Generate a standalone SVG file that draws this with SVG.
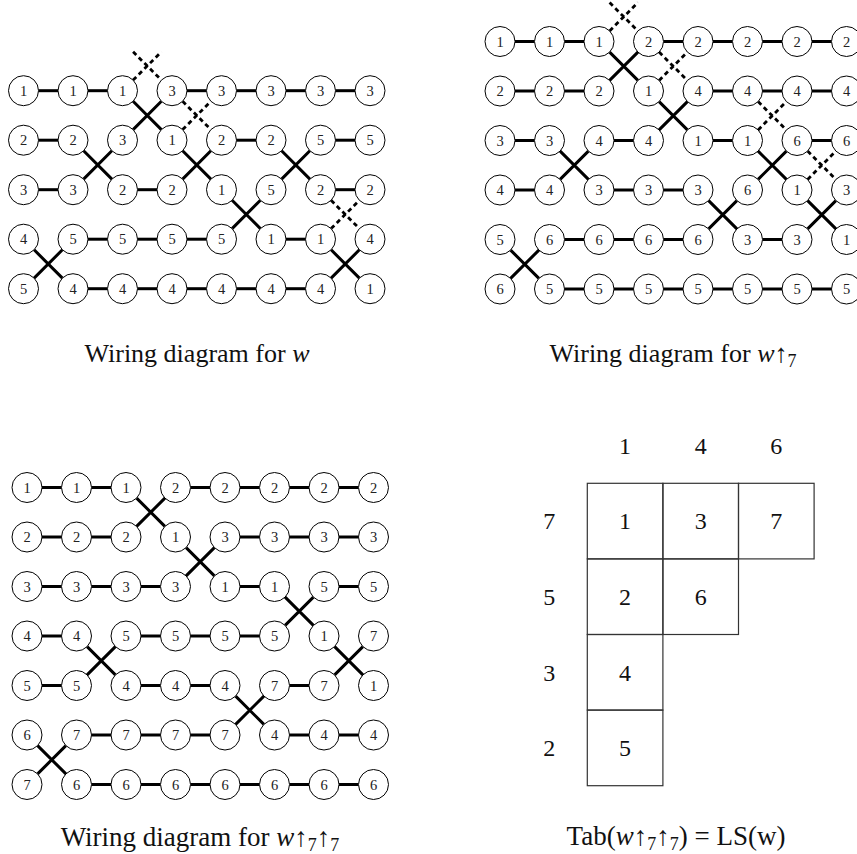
<svg xmlns="http://www.w3.org/2000/svg" width="857" height="854" viewBox="0 0 857 854">
<style>
.n circle{fill:#fff;stroke:#000;stroke-width:1}
.n text{font-family:"Liberation Serif",serif;font-size:14.5px;text-anchor:middle;fill:#222}
.h,.x{stroke:#000;stroke-width:3;fill:none}
.d{stroke:#000;stroke-width:2.8;fill:none;stroke-dasharray:4.5 3.5}
.cap{font-family:"Liberation Serif",serif;font-size:26px;text-anchor:middle;fill:#111}
.it{font-style:italic}
.sub{font-size:18px}
.cell rect{fill:none;stroke:#333;stroke-width:1.2}
.t{font-family:"Liberation Serif",serif;font-size:24px;text-anchor:middle;fill:#111}
</style>
<defs>
<path id="h" d="M15,0H34.5"/>
<path id="x" d="M10.6,10.6L38.9,38.9M10.6,38.9L38.9,10.6"/>
</defs>
<rect width="857" height="854" fill="#fff"/>

<!-- Top-left: wiring diagram for w -->
<g id="diagram-w" transform="translate(23.5,90.7)">
<g id="tl-connectors">
<use class="h" href="#h" x="0" y="0"/><use class="h" href="#h" x="0" y="49.5"/><use class="h" href="#h" x="0" y="99"/><use class="x" href="#x" x="0" y="148.5"/>
<use class="h" href="#h" x="49.5" y="0"/><use class="x" href="#x" x="49.5" y="49.5"/><use class="h" href="#h" x="49.5" y="148.5"/><use class="h" href="#h" x="49.5" y="198"/>
<use class="x" href="#x" x="99" y="0"/><use class="d" href="#x" x="99" y="-49.5"/><use class="h" href="#h" x="99" y="99"/><use class="h" href="#h" x="99" y="148.5"/><use class="h" href="#h" x="99" y="198"/>
<use class="h" href="#h" x="148.5" y="0"/><use class="d" href="#x" x="148.5" y="0"/><use class="x" href="#x" x="148.5" y="49.5"/><use class="h" href="#h" x="148.5" y="148.5"/><use class="h" href="#h" x="148.5" y="198"/>
<use class="h" href="#h" x="198" y="0"/><use class="h" href="#h" x="198" y="49.5"/><use class="x" href="#x" x="198" y="99"/><use class="h" href="#h" x="198" y="198"/>
<use class="h" href="#h" x="247.5" y="0"/><use class="x" href="#x" x="247.5" y="49.5"/><use class="h" href="#h" x="247.5" y="148.5"/><use class="h" href="#h" x="247.5" y="198"/>
<use class="h" href="#h" x="297" y="0"/><use class="h" href="#h" x="297" y="49.5"/><use class="h" href="#h" x="297" y="99"/><use class="x" href="#x" x="297" y="148.5"/><use class="d" href="#x" x="297" y="99"/>
</g>
<g id="tl-r0c0" class="n" transform="translate(0,0)"><circle r="15"/><text y="5">1</text></g>
<g id="tl-r0c1" class="n" transform="translate(49.5,0)"><circle r="15"/><text y="5">1</text></g>
<g id="tl-r0c2" class="n" transform="translate(99,0)"><circle r="15"/><text y="5">1</text></g>
<g id="tl-r0c3" class="n" transform="translate(148.5,0)"><circle r="15"/><text y="5">3</text></g>
<g id="tl-r0c4" class="n" transform="translate(198,0)"><circle r="15"/><text y="5">3</text></g>
<g id="tl-r0c5" class="n" transform="translate(247.5,0)"><circle r="15"/><text y="5">3</text></g>
<g id="tl-r0c6" class="n" transform="translate(297,0)"><circle r="15"/><text y="5">3</text></g>
<g id="tl-r0c7" class="n" transform="translate(346.5,0)"><circle r="15"/><text y="5">3</text></g>
<g id="tl-r1c0" class="n" transform="translate(0,49.5)"><circle r="15"/><text y="5">2</text></g>
<g id="tl-r1c1" class="n" transform="translate(49.5,49.5)"><circle r="15"/><text y="5">2</text></g>
<g id="tl-r1c2" class="n" transform="translate(99,49.5)"><circle r="15"/><text y="5">3</text></g>
<g id="tl-r1c3" class="n" transform="translate(148.5,49.5)"><circle r="15"/><text y="5">1</text></g>
<g id="tl-r1c4" class="n" transform="translate(198,49.5)"><circle r="15"/><text y="5">2</text></g>
<g id="tl-r1c5" class="n" transform="translate(247.5,49.5)"><circle r="15"/><text y="5">2</text></g>
<g id="tl-r1c6" class="n" transform="translate(297,49.5)"><circle r="15"/><text y="5">5</text></g>
<g id="tl-r1c7" class="n" transform="translate(346.5,49.5)"><circle r="15"/><text y="5">5</text></g>
<g id="tl-r2c0" class="n" transform="translate(0,99)"><circle r="15"/><text y="5">3</text></g>
<g id="tl-r2c1" class="n" transform="translate(49.5,99)"><circle r="15"/><text y="5">3</text></g>
<g id="tl-r2c2" class="n" transform="translate(99,99)"><circle r="15"/><text y="5">2</text></g>
<g id="tl-r2c3" class="n" transform="translate(148.5,99)"><circle r="15"/><text y="5">2</text></g>
<g id="tl-r2c4" class="n" transform="translate(198,99)"><circle r="15"/><text y="5">1</text></g>
<g id="tl-r2c5" class="n" transform="translate(247.5,99)"><circle r="15"/><text y="5">5</text></g>
<g id="tl-r2c6" class="n" transform="translate(297,99)"><circle r="15"/><text y="5">2</text></g>
<g id="tl-r2c7" class="n" transform="translate(346.5,99)"><circle r="15"/><text y="5">2</text></g>
<g id="tl-r3c0" class="n" transform="translate(0,148.5)"><circle r="15"/><text y="5">4</text></g>
<g id="tl-r3c1" class="n" transform="translate(49.5,148.5)"><circle r="15"/><text y="5">5</text></g>
<g id="tl-r3c2" class="n" transform="translate(99,148.5)"><circle r="15"/><text y="5">5</text></g>
<g id="tl-r3c3" class="n" transform="translate(148.5,148.5)"><circle r="15"/><text y="5">5</text></g>
<g id="tl-r3c4" class="n" transform="translate(198,148.5)"><circle r="15"/><text y="5">5</text></g>
<g id="tl-r3c5" class="n" transform="translate(247.5,148.5)"><circle r="15"/><text y="5">1</text></g>
<g id="tl-r3c6" class="n" transform="translate(297,148.5)"><circle r="15"/><text y="5">1</text></g>
<g id="tl-r3c7" class="n" transform="translate(346.5,148.5)"><circle r="15"/><text y="5">4</text></g>
<g id="tl-r4c0" class="n" transform="translate(0,198)"><circle r="15"/><text y="5">5</text></g>
<g id="tl-r4c1" class="n" transform="translate(49.5,198)"><circle r="15"/><text y="5">4</text></g>
<g id="tl-r4c2" class="n" transform="translate(99,198)"><circle r="15"/><text y="5">4</text></g>
<g id="tl-r4c3" class="n" transform="translate(148.5,198)"><circle r="15"/><text y="5">4</text></g>
<g id="tl-r4c4" class="n" transform="translate(198,198)"><circle r="15"/><text y="5">4</text></g>
<g id="tl-r4c5" class="n" transform="translate(247.5,198)"><circle r="15"/><text y="5">4</text></g>
<g id="tl-r4c6" class="n" transform="translate(297,198)"><circle r="15"/><text y="5">4</text></g>
<g id="tl-r4c7" class="n" transform="translate(346.5,198)"><circle r="15"/><text y="5">1</text></g>
</g>
<text class="cap" x="197" y="362">Wiring diagram for <tspan class="it">w</tspan></text>

<!-- Top-right: wiring diagram for w↑7 -->
<g id="diagram-w7" transform="translate(500,41.5)">
<g id="tr-connectors">
<use class="h" href="#h" x="0" y="0"/><use class="h" href="#h" x="0" y="49.5"/><use class="h" href="#h" x="0" y="99"/><use class="h" href="#h" x="0" y="148.5"/><use class="x" href="#x" x="0" y="198"/>
<use class="h" href="#h" x="49.5" y="0"/><use class="h" href="#h" x="49.5" y="49.5"/><use class="x" href="#x" x="49.5" y="99"/><use class="h" href="#h" x="49.5" y="198"/><use class="h" href="#h" x="49.5" y="247.5"/>
<use class="x" href="#x" x="99" y="0"/><use class="d" href="#x" x="99" y="-49.5"/><use class="h" href="#h" x="99" y="99"/><use class="h" href="#h" x="99" y="148.5"/><use class="h" href="#h" x="99" y="198"/><use class="h" href="#h" x="99" y="247.5"/>
<use class="h" href="#h" x="148.5" y="0"/><use class="d" href="#x" x="148.5" y="0"/><use class="x" href="#x" x="148.5" y="49.5"/><use class="h" href="#h" x="148.5" y="148.5"/><use class="h" href="#h" x="148.5" y="198"/><use class="h" href="#h" x="148.5" y="247.5"/>
<use class="h" href="#h" x="198" y="0"/><use class="h" href="#h" x="198" y="49.5"/><use class="h" href="#h" x="198" y="99"/><use class="x" href="#x" x="198" y="148.5"/><use class="h" href="#h" x="198" y="247.5"/>
<use class="h" href="#h" x="247.5" y="0"/><use class="h" href="#h" x="247.5" y="49.5"/><use class="d" href="#x" x="247.5" y="49.5"/><use class="x" href="#x" x="247.5" y="99"/><use class="h" href="#h" x="247.5" y="198"/><use class="h" href="#h" x="247.5" y="247.5"/>
<use class="h" href="#h" x="297" y="0"/><use class="h" href="#h" x="297" y="49.5"/><use class="h" href="#h" x="297" y="99"/><use class="d" href="#x" x="297" y="99"/><use class="x" href="#x" x="297" y="148.5"/><use class="h" href="#h" x="297" y="247.5"/>
</g>
<g id="tr-r0c0" class="n" transform="translate(0,0)"><circle r="15"/><text y="5">1</text></g>
<g id="tr-r0c1" class="n" transform="translate(49.5,0)"><circle r="15"/><text y="5">1</text></g>
<g id="tr-r0c2" class="n" transform="translate(99,0)"><circle r="15"/><text y="5">1</text></g>
<g id="tr-r0c3" class="n" transform="translate(148.5,0)"><circle r="15"/><text y="5">2</text></g>
<g id="tr-r0c4" class="n" transform="translate(198,0)"><circle r="15"/><text y="5">2</text></g>
<g id="tr-r0c5" class="n" transform="translate(247.5,0)"><circle r="15"/><text y="5">2</text></g>
<g id="tr-r0c6" class="n" transform="translate(297,0)"><circle r="15"/><text y="5">2</text></g>
<g id="tr-r0c7" class="n" transform="translate(346.5,0)"><circle r="15"/><text y="5">2</text></g>
<g id="tr-r1c0" class="n" transform="translate(0,49.5)"><circle r="15"/><text y="5">2</text></g>
<g id="tr-r1c1" class="n" transform="translate(49.5,49.5)"><circle r="15"/><text y="5">2</text></g>
<g id="tr-r1c2" class="n" transform="translate(99,49.5)"><circle r="15"/><text y="5">2</text></g>
<g id="tr-r1c3" class="n" transform="translate(148.5,49.5)"><circle r="15"/><text y="5">1</text></g>
<g id="tr-r1c4" class="n" transform="translate(198,49.5)"><circle r="15"/><text y="5">4</text></g>
<g id="tr-r1c5" class="n" transform="translate(247.5,49.5)"><circle r="15"/><text y="5">4</text></g>
<g id="tr-r1c6" class="n" transform="translate(297,49.5)"><circle r="15"/><text y="5">4</text></g>
<g id="tr-r1c7" class="n" transform="translate(346.5,49.5)"><circle r="15"/><text y="5">4</text></g>
<g id="tr-r2c0" class="n" transform="translate(0,99)"><circle r="15"/><text y="5">3</text></g>
<g id="tr-r2c1" class="n" transform="translate(49.5,99)"><circle r="15"/><text y="5">3</text></g>
<g id="tr-r2c2" class="n" transform="translate(99,99)"><circle r="15"/><text y="5">4</text></g>
<g id="tr-r2c3" class="n" transform="translate(148.5,99)"><circle r="15"/><text y="5">4</text></g>
<g id="tr-r2c4" class="n" transform="translate(198,99)"><circle r="15"/><text y="5">1</text></g>
<g id="tr-r2c5" class="n" transform="translate(247.5,99)"><circle r="15"/><text y="5">1</text></g>
<g id="tr-r2c6" class="n" transform="translate(297,99)"><circle r="15"/><text y="5">6</text></g>
<g id="tr-r2c7" class="n" transform="translate(346.5,99)"><circle r="15"/><text y="5">6</text></g>
<g id="tr-r3c0" class="n" transform="translate(0,148.5)"><circle r="15"/><text y="5">4</text></g>
<g id="tr-r3c1" class="n" transform="translate(49.5,148.5)"><circle r="15"/><text y="5">4</text></g>
<g id="tr-r3c2" class="n" transform="translate(99,148.5)"><circle r="15"/><text y="5">3</text></g>
<g id="tr-r3c3" class="n" transform="translate(148.5,148.5)"><circle r="15"/><text y="5">3</text></g>
<g id="tr-r3c4" class="n" transform="translate(198,148.5)"><circle r="15"/><text y="5">3</text></g>
<g id="tr-r3c5" class="n" transform="translate(247.5,148.5)"><circle r="15"/><text y="5">6</text></g>
<g id="tr-r3c6" class="n" transform="translate(297,148.5)"><circle r="15"/><text y="5">1</text></g>
<g id="tr-r3c7" class="n" transform="translate(346.5,148.5)"><circle r="15"/><text y="5">3</text></g>
<g id="tr-r4c0" class="n" transform="translate(0,198)"><circle r="15"/><text y="5">5</text></g>
<g id="tr-r4c1" class="n" transform="translate(49.5,198)"><circle r="15"/><text y="5">6</text></g>
<g id="tr-r4c2" class="n" transform="translate(99,198)"><circle r="15"/><text y="5">6</text></g>
<g id="tr-r4c3" class="n" transform="translate(148.5,198)"><circle r="15"/><text y="5">6</text></g>
<g id="tr-r4c4" class="n" transform="translate(198,198)"><circle r="15"/><text y="5">6</text></g>
<g id="tr-r4c5" class="n" transform="translate(247.5,198)"><circle r="15"/><text y="5">3</text></g>
<g id="tr-r4c6" class="n" transform="translate(297,198)"><circle r="15"/><text y="5">3</text></g>
<g id="tr-r4c7" class="n" transform="translate(346.5,198)"><circle r="15"/><text y="5">1</text></g>
<g id="tr-r5c0" class="n" transform="translate(0,247.5)"><circle r="15"/><text y="5">6</text></g>
<g id="tr-r5c1" class="n" transform="translate(49.5,247.5)"><circle r="15"/><text y="5">5</text></g>
<g id="tr-r5c2" class="n" transform="translate(99,247.5)"><circle r="15"/><text y="5">5</text></g>
<g id="tr-r5c3" class="n" transform="translate(148.5,247.5)"><circle r="15"/><text y="5">5</text></g>
<g id="tr-r5c4" class="n" transform="translate(198,247.5)"><circle r="15"/><text y="5">5</text></g>
<g id="tr-r5c5" class="n" transform="translate(247.5,247.5)"><circle r="15"/><text y="5">5</text></g>
<g id="tr-r5c6" class="n" transform="translate(297,247.5)"><circle r="15"/><text y="5">5</text></g>
<g id="tr-r5c7" class="n" transform="translate(346.5,247.5)"><circle r="15"/><text y="5">5</text></g>
</g>
<text class="cap" x="673" y="362">Wiring diagram for <tspan class="it">w</tspan>↑<tspan class="sub" dy="5">7</tspan></text>

<!-- Bottom-left: wiring diagram for w↑7↑7 -->
<g id="diagram-w77" transform="translate(27,487.5)">
<g id="bl-connectors">
<use class="h" href="#h" x="0" y="0"/><use class="h" href="#h" x="0" y="49.5"/><use class="h" href="#h" x="0" y="99"/><use class="h" href="#h" x="0" y="148.5"/><use class="h" href="#h" x="0" y="198"/><use class="x" href="#x" x="0" y="247.5"/>
<use class="h" href="#h" x="49.5" y="0"/><use class="h" href="#h" x="49.5" y="49.5"/><use class="h" href="#h" x="49.5" y="99"/><use class="x" href="#x" x="49.5" y="148.5"/><use class="h" href="#h" x="49.5" y="247.5"/><use class="h" href="#h" x="49.5" y="297"/>
<use class="x" href="#x" x="99" y="0"/><use class="h" href="#h" x="99" y="99"/><use class="h" href="#h" x="99" y="148.5"/><use class="h" href="#h" x="99" y="198"/><use class="h" href="#h" x="99" y="247.5"/><use class="h" href="#h" x="99" y="297"/>
<use class="h" href="#h" x="148.5" y="0"/><use class="x" href="#x" x="148.5" y="49.5"/><use class="h" href="#h" x="148.5" y="148.5"/><use class="h" href="#h" x="148.5" y="198"/><use class="h" href="#h" x="148.5" y="247.5"/><use class="h" href="#h" x="148.5" y="297"/>
<use class="h" href="#h" x="198" y="0"/><use class="h" href="#h" x="198" y="49.5"/><use class="h" href="#h" x="198" y="99"/><use class="h" href="#h" x="198" y="148.5"/><use class="x" href="#x" x="198" y="198"/><use class="h" href="#h" x="198" y="297"/>
<use class="h" href="#h" x="247.5" y="0"/><use class="h" href="#h" x="247.5" y="49.5"/><use class="x" href="#x" x="247.5" y="99"/><use class="h" href="#h" x="247.5" y="198"/><use class="h" href="#h" x="247.5" y="247.5"/><use class="h" href="#h" x="247.5" y="297"/>
<use class="h" href="#h" x="297" y="0"/><use class="h" href="#h" x="297" y="49.5"/><use class="h" href="#h" x="297" y="99"/><use class="x" href="#x" x="297" y="148.5"/><use class="h" href="#h" x="297" y="247.5"/><use class="h" href="#h" x="297" y="297"/>
</g>
<g id="bl-r0c0" class="n" transform="translate(0,0)"><circle r="15"/><text y="5">1</text></g>
<g id="bl-r0c1" class="n" transform="translate(49.5,0)"><circle r="15"/><text y="5">1</text></g>
<g id="bl-r0c2" class="n" transform="translate(99,0)"><circle r="15"/><text y="5">1</text></g>
<g id="bl-r0c3" class="n" transform="translate(148.5,0)"><circle r="15"/><text y="5">2</text></g>
<g id="bl-r0c4" class="n" transform="translate(198,0)"><circle r="15"/><text y="5">2</text></g>
<g id="bl-r0c5" class="n" transform="translate(247.5,0)"><circle r="15"/><text y="5">2</text></g>
<g id="bl-r0c6" class="n" transform="translate(297,0)"><circle r="15"/><text y="5">2</text></g>
<g id="bl-r0c7" class="n" transform="translate(346.5,0)"><circle r="15"/><text y="5">2</text></g>
<g id="bl-r1c0" class="n" transform="translate(0,49.5)"><circle r="15"/><text y="5">2</text></g>
<g id="bl-r1c1" class="n" transform="translate(49.5,49.5)"><circle r="15"/><text y="5">2</text></g>
<g id="bl-r1c2" class="n" transform="translate(99,49.5)"><circle r="15"/><text y="5">2</text></g>
<g id="bl-r1c3" class="n" transform="translate(148.5,49.5)"><circle r="15"/><text y="5">1</text></g>
<g id="bl-r1c4" class="n" transform="translate(198,49.5)"><circle r="15"/><text y="5">3</text></g>
<g id="bl-r1c5" class="n" transform="translate(247.5,49.5)"><circle r="15"/><text y="5">3</text></g>
<g id="bl-r1c6" class="n" transform="translate(297,49.5)"><circle r="15"/><text y="5">3</text></g>
<g id="bl-r1c7" class="n" transform="translate(346.5,49.5)"><circle r="15"/><text y="5">3</text></g>
<g id="bl-r2c0" class="n" transform="translate(0,99)"><circle r="15"/><text y="5">3</text></g>
<g id="bl-r2c1" class="n" transform="translate(49.5,99)"><circle r="15"/><text y="5">3</text></g>
<g id="bl-r2c2" class="n" transform="translate(99,99)"><circle r="15"/><text y="5">3</text></g>
<g id="bl-r2c3" class="n" transform="translate(148.5,99)"><circle r="15"/><text y="5">3</text></g>
<g id="bl-r2c4" class="n" transform="translate(198,99)"><circle r="15"/><text y="5">1</text></g>
<g id="bl-r2c5" class="n" transform="translate(247.5,99)"><circle r="15"/><text y="5">1</text></g>
<g id="bl-r2c6" class="n" transform="translate(297,99)"><circle r="15"/><text y="5">5</text></g>
<g id="bl-r2c7" class="n" transform="translate(346.5,99)"><circle r="15"/><text y="5">5</text></g>
<g id="bl-r3c0" class="n" transform="translate(0,148.5)"><circle r="15"/><text y="5">4</text></g>
<g id="bl-r3c1" class="n" transform="translate(49.5,148.5)"><circle r="15"/><text y="5">4</text></g>
<g id="bl-r3c2" class="n" transform="translate(99,148.5)"><circle r="15"/><text y="5">5</text></g>
<g id="bl-r3c3" class="n" transform="translate(148.5,148.5)"><circle r="15"/><text y="5">5</text></g>
<g id="bl-r3c4" class="n" transform="translate(198,148.5)"><circle r="15"/><text y="5">5</text></g>
<g id="bl-r3c5" class="n" transform="translate(247.5,148.5)"><circle r="15"/><text y="5">5</text></g>
<g id="bl-r3c6" class="n" transform="translate(297,148.5)"><circle r="15"/><text y="5">1</text></g>
<g id="bl-r3c7" class="n" transform="translate(346.5,148.5)"><circle r="15"/><text y="5">7</text></g>
<g id="bl-r4c0" class="n" transform="translate(0,198)"><circle r="15"/><text y="5">5</text></g>
<g id="bl-r4c1" class="n" transform="translate(49.5,198)"><circle r="15"/><text y="5">5</text></g>
<g id="bl-r4c2" class="n" transform="translate(99,198)"><circle r="15"/><text y="5">4</text></g>
<g id="bl-r4c3" class="n" transform="translate(148.5,198)"><circle r="15"/><text y="5">4</text></g>
<g id="bl-r4c4" class="n" transform="translate(198,198)"><circle r="15"/><text y="5">4</text></g>
<g id="bl-r4c5" class="n" transform="translate(247.5,198)"><circle r="15"/><text y="5">7</text></g>
<g id="bl-r4c6" class="n" transform="translate(297,198)"><circle r="15"/><text y="5">7</text></g>
<g id="bl-r4c7" class="n" transform="translate(346.5,198)"><circle r="15"/><text y="5">1</text></g>
<g id="bl-r5c0" class="n" transform="translate(0,247.5)"><circle r="15"/><text y="5">6</text></g>
<g id="bl-r5c1" class="n" transform="translate(49.5,247.5)"><circle r="15"/><text y="5">7</text></g>
<g id="bl-r5c2" class="n" transform="translate(99,247.5)"><circle r="15"/><text y="5">7</text></g>
<g id="bl-r5c3" class="n" transform="translate(148.5,247.5)"><circle r="15"/><text y="5">7</text></g>
<g id="bl-r5c4" class="n" transform="translate(198,247.5)"><circle r="15"/><text y="5">7</text></g>
<g id="bl-r5c5" class="n" transform="translate(247.5,247.5)"><circle r="15"/><text y="5">4</text></g>
<g id="bl-r5c6" class="n" transform="translate(297,247.5)"><circle r="15"/><text y="5">4</text></g>
<g id="bl-r5c7" class="n" transform="translate(346.5,247.5)"><circle r="15"/><text y="5">4</text></g>
<g id="bl-r6c0" class="n" transform="translate(0,297)"><circle r="15"/><text y="5">7</text></g>
<g id="bl-r6c1" class="n" transform="translate(49.5,297)"><circle r="15"/><text y="5">6</text></g>
<g id="bl-r6c2" class="n" transform="translate(99,297)"><circle r="15"/><text y="5">6</text></g>
<g id="bl-r6c3" class="n" transform="translate(148.5,297)"><circle r="15"/><text y="5">6</text></g>
<g id="bl-r6c4" class="n" transform="translate(198,297)"><circle r="15"/><text y="5">6</text></g>
<g id="bl-r6c5" class="n" transform="translate(247.5,297)"><circle r="15"/><text y="5">6</text></g>
<g id="bl-r6c6" class="n" transform="translate(297,297)"><circle r="15"/><text y="5">6</text></g>
<g id="bl-r6c7" class="n" transform="translate(346.5,297)"><circle r="15"/><text y="5">6</text></g>
</g>
<text class="cap" x="200" y="846" style="font-size:27px">Wiring diagram for <tspan class="it">w</tspan>↑<tspan class="sub" dy="5">7</tspan><tspan dy="-5">↑</tspan><tspan class="sub" dy="5">7</tspan></text>

<!-- Bottom-right: tableau -->
<g id="tableau">
<g id="tab-headers" class="t">
<text x="625.1" y="454">1</text><text x="700.7" y="454">4</text><text x="776.3" y="454">6</text>
<text x="549.3" y="529.3">7</text><text x="549.3" y="604.9">5</text><text x="549.3" y="680.5">3</text><text x="549.3" y="756.1">2</text>
</g>
<g id="cell-r0c0" class="cell"><rect x="587.3" y="483.3" width="75.6" height="75.6"/><text class="t" x="625.1" y="529.3">1</text></g>
<g id="cell-r0c1" class="cell"><rect x="662.9" y="483.3" width="75.6" height="75.6"/><text class="t" x="700.7" y="529.3">3</text></g>
<g id="cell-r0c2" class="cell"><rect x="738.5" y="483.3" width="75.6" height="75.6"/><text class="t" x="776.3" y="529.3">7</text></g>
<g id="cell-r1c0" class="cell"><rect x="587.3" y="558.9" width="75.6" height="75.6"/><text class="t" x="625.1" y="604.9">2</text></g>
<g id="cell-r1c1" class="cell"><rect x="662.9" y="558.9" width="75.6" height="75.6"/><text class="t" x="700.7" y="604.9">6</text></g>
<g id="cell-r2c0" class="cell"><rect x="587.3" y="634.5" width="75.6" height="75.6"/><text class="t" x="625.1" y="680.5">4</text></g>
<g id="cell-r3c0" class="cell"><rect x="587.3" y="710.1" width="75.6" height="75.6"/><text class="t" x="625.1" y="756.1">5</text></g>
</g>
<text class="cap" x="676" y="845" style="font-size:27px">Tab(<tspan class="it">w</tspan>↑<tspan class="sub" dy="5">7</tspan><tspan dy="-5">↑</tspan><tspan class="sub" dy="5">7</tspan><tspan dy="-5">) = LS(w)</tspan></text>
</svg>
